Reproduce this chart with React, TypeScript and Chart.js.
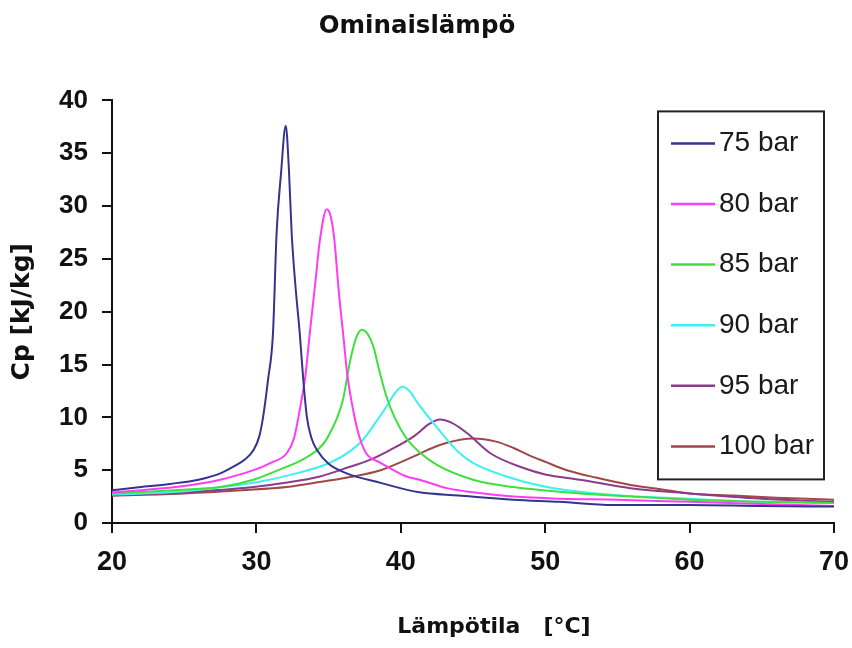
import React, { useEffect, useRef } from 'react';
import { Chart, registerables } from 'chart.js';

Chart.register(...registerables);

const chartTitle = 'Ominaislämpö';
const xAxisTitle = 'Lämpötila   [°C]';
const yAxisTitle = 'Cp [kJ/kg]';

const seriesLabels = ['75 bar', '80 bar', '85 bar', '90 bar', '95 bar', '100 bar'];
const seriesColors = ['#34348f', '#ff3cf5', '#3ee03e', '#3ff0f0', '#8c3a8c', '#a04848'];

// 75 bar
const t75 = [20, 22, 24, 26, 27.5, 28.5, 29.2, 29.8, 30.2, 30.46, 30.8, 31.15, 31.4, 31.7, 32.03, 32.25, 32.44, 32.7, 33.0, 33.25, 33.5, 33.8, 34.2, 35.0, 36.25, 38.6, 41.3, 44, 47.8, 51, 54.7, 60, 65, 70];
const cp75 = [3.1, 3.4, 3.7, 4.1, 4.7, 5.4, 6.0, 6.9, 8.2, 10.0, 13.5, 18.0, 27.5, 33.0, 37.6, 33.5, 27.5, 22.5, 18.0, 13.5, 10.0, 8.1, 6.9, 5.6, 4.7, 3.8, 2.9, 2.6, 2.2, 2.0, 1.7, 1.7, 1.6, 1.55];

// 80 bar
const t80 = [20, 22, 25, 27.5, 29.8, 31, 32.1, 32.6, 33.0, 33.4, 33.7, 34.1, 34.4, 34.87, 35.15, 35.4, 35.7, 36.0, 36.3, 36.7, 37.1, 37.6, 38.6, 39.5, 40.4, 41.3, 43.2, 45, 47.8, 51, 55, 60, 65, 70];
const cp80 = [2.9, 3.1, 3.5, 4.1, 5.0, 5.7, 6.6, 8.0, 10.7, 14.0, 18.0, 23.0, 26.8, 29.7, 29.0, 26.8, 22.0, 18.0, 14.0, 10.7, 8.3, 6.6, 5.7, 5.0, 4.4, 4.1, 3.3, 2.9, 2.5, 2.3, 2.2, 2.0, 1.8, 1.6];

// 85 bar
const t85 = [20, 23, 25.5, 27.5, 29.8, 31.5, 33.2, 34.3, 34.8, 35.2, 35.6, 36.0, 36.5, 36.9, 37.3, 37.7, 38.1, 38.5, 39.0, 39.6, 40.4, 41.3, 42.5, 45, 47.8, 52.4, 56, 60, 65, 70];
const cp85 = [2.8, 3.0, 3.2, 3.4, 4.1, 5.0, 6.0, 7.0, 7.8, 8.8, 10.0, 11.7, 15.4, 17.5, 18.3, 17.9, 16.7, 14.5, 12.0, 9.9, 8.0, 6.7, 5.5, 4.1, 3.4, 2.8, 2.5, 2.2, 2.0, 1.9];

// 90 bar
const t90 = [20, 24, 27, 29.8, 32.5, 35.1, 36.5, 37.4, 38.2, 39.0, 39.6, 40.1, 40.6, 41.2, 42.0, 43.2, 44.0, 45.0, 47.1, 50.1, 54.7, 60, 65, 70];
const cp90 = [2.7, 2.9, 3.3, 3.8, 4.6, 5.7, 6.8, 7.9, 9.4, 11.0, 12.3, 12.9, 12.5, 11.3, 9.9, 7.9, 6.7, 5.7, 4.5, 3.4, 2.65, 2.3, 2.0, 1.9];

// 95 bar
const t95 = [20, 25, 29.8, 32, 34.4, 36, 37.9, 39.25, 40.9, 42, 42.7, 43.5, 44.6, 46.2, 48.5, 50, 52.4, 55.9, 60, 65, 70];
const cp95 = [2.6, 2.9, 3.4, 3.8, 4.4, 5.1, 6.0, 6.9, 8.2, 9.4, 9.8, 9.5, 8.5, 6.6, 5.2, 4.6, 4.1, 3.3, 2.8, 2.3, 2.0];

// 100 bar
const t100 = [20, 25, 29, 32.1, 34.5, 36.7, 38.6, 40.9, 42, 43.2, 45.0, 46.6, 47.8, 48.9, 50, 51.5, 53.5, 55.9, 58, 60, 63, 66, 70];
const cp100 = [2.6, 2.8, 3.1, 3.4, 3.9, 4.4, 5.0, 6.3, 7.0, 7.6, 8.0, 7.7, 7.1, 6.4, 5.8, 5.0, 4.3, 3.6, 3.2, 2.8, 2.6, 2.4, 2.2];

const xMin = 20;
const xMax = 70;
const xStep = 10;
const yMin = 0;
const yMax = 40;
const yStep = 5;

const titleFamily = '"DejaVu Sans", "Open Sans", sans-serif';
const tickFamily = '"Liberation Sans", Arial, sans-serif';

export default function App() {
  const canvasRef = useRef<HTMLCanvasElement>(null);

  useEffect(() => {
    if (!canvasRef.current) return;
    const temps = [t75, t80, t85, t90, t95, t100];
    const cps = [cp75, cp80, cp85, cp90, cp95, cp100];

    const datasets = seriesLabels.map((label, i) => ({
      label,
      data: temps[i].map((x, j) => ({ x, y: cps[i][j] })),
      borderColor: seriesColors[i],
      backgroundColor: seriesColors[i],
      borderWidth: 2,
      pointRadius: 0,
      cubicInterpolationMode: 'monotone' as const,
      fill: false,
    }));

    const overlayPlugin = {
      id: 'boxLegendAndXTitle',
      afterDraw(chart: any) {
        const { ctx, chartArea } = chart;
        ctx.save();
        const bx = chartArea.right - 176;
        const by = chartArea.top + 11;
        const bw = 166;
        const bh = 368;
        ctx.fillStyle = '#ffffff';
        ctx.fillRect(bx, by, bw, bh);
        ctx.strokeStyle = '#222222';
        ctx.lineWidth = 2;
        ctx.strokeRect(bx, by, bw, bh);
        chart.data.datasets.forEach((ds: any, i: number) => {
          const y = by + 32 + i * 60.6;
          ctx.strokeStyle = ds.borderColor;
          ctx.lineWidth = 2.5;
          ctx.beginPath();
          ctx.moveTo(bx + 13, y);
          ctx.lineTo(bx + 57, y);
          ctx.stroke();
          ctx.fillStyle = '#1a1a1a';
          ctx.font = '28px ' + tickFamily;
          ctx.textAlign = 'left';
          ctx.textBaseline = 'middle';
          ctx.fillText(ds.label, bx + 61, y);
        });
        ctx.fillStyle = '#111111';
        ctx.font = 'bold 22px ' + titleFamily;
        ctx.textAlign = 'center';
        ctx.textBaseline = 'alphabetic';
        ctx.fillText(xAxisTitle, (chartArea.left + chartArea.right) / 2 + 21, chartArea.bottom + 110);
        ctx.restore();
      },
    };

    const chart = new Chart(canvasRef.current, {
      type: 'line',
      data: { datasets },
      plugins: [overlayPlugin],
      options: {
        animation: false,
        responsive: false,
        maintainAspectRatio: false,
        layout: { padding: { left: 0, right: 18, top: 0, bottom: 0 } },
        plugins: {
          legend: { display: false },
          tooltip: { enabled: false },
          title: {
            display: true,
            text: chartTitle,
            color: '#111111',
            font: { family: titleFamily, size: 24.5, weight: 'bold' },
            padding: { top: 12, bottom: 59 },
          },
        },
        scales: {
          x: {
            type: 'linear',
            min: xMin,
            max: xMax,
            afterFit: (scale: any) => {
              scale.height = 125;
              scale.paddingLeft = 0;
              scale.paddingRight = 0;
            },
            ticks: {
              stepSize: xStep,
              color: '#111111',
              padding: 13,
              maxRotation: 0,
              font: { family: tickFamily, size: 27, weight: 'bold' },
            },
            grid: {
              display: true,
              drawOnChartArea: false,
              drawTicks: true,
              tickLength: 10,
              color: '#111111',
              lineWidth: 2,
            },
            border: { display: true, color: '#111111', width: 2 },
          },
          y: {
            type: 'linear',
            min: yMin,
            max: yMax,
            afterFit: (scale: any) => {
              scale.width = 112;
              scale.paddingTop = 0;
              scale.paddingBottom = 0;
            },
            ticks: {
              stepSize: yStep,
              color: '#111111',
              padding: 14,
              font: { family: tickFamily, size: 26, weight: 'bold' },
            },
            grid: {
              display: true,
              drawOnChartArea: false,
              drawTicks: true,
              tickLength: 10,
              color: '#111111',
              lineWidth: 2,
            },
            border: { display: true, color: '#111111', width: 2 },
            title: {
              display: true,
              text: yAxisTitle,
              color: '#111111',
              font: { family: titleFamily, size: 25, weight: 'bold' },
              padding: { top: 7, bottom: 0 },
            },
          },
        },
      },
    } as any);

    return () => {
      chart.destroy();
    };
  }, []);

  return (
    <div style={{ position: 'fixed', left: 0, top: 0, width: 852, height: 648, background: '#ffffff' }}>
      <canvas ref={canvasRef} width={852} height={648} style={{ width: 852, height: 648, display: 'block' }} />
    </div>
  );
}
